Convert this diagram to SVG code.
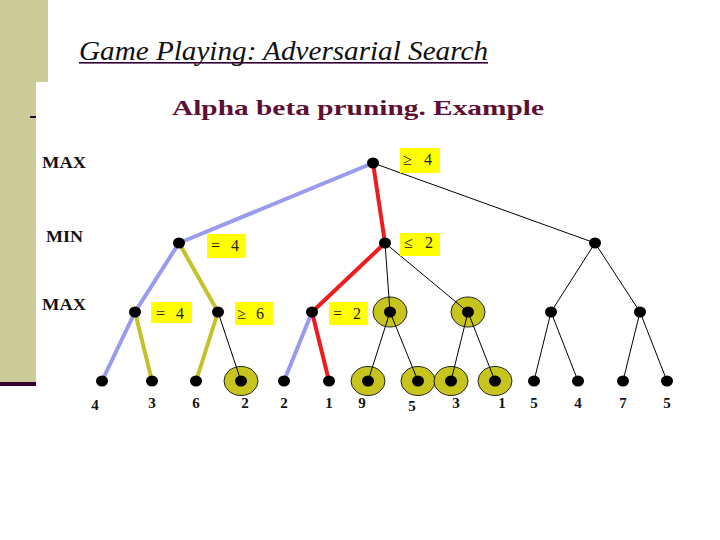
<svg xmlns="http://www.w3.org/2000/svg" width="720" height="540" viewBox="0 0 720 540">
<style>
.title{font-family:"Liberation Serif","Times New Roman",serif;font-style:italic;font-size:27px;fill:#111}
.sub{font-family:"Liberation Serif","Times New Roman",serif;font-weight:bold;font-size:22px;fill:#5e1034}
.lvl{font-family:"Liberation Serif",serif;font-weight:bold;font-size:16px;fill:#111}
.leaf{font-family:"Liberation Serif",serif;font-weight:bold;font-size:15px;fill:#111;text-anchor:middle}
.box{fill:#ffff00}
.bt{font-family:"Liberation Serif","DejaVu Serif",serif;font-size:16px;fill:#222}
.n{fill:#000}
.ring{fill:#c8c41e;stroke:#222;stroke-width:1}
.thin{stroke:#000;stroke-width:1;fill:none}
.blue{stroke:#9a9aee;stroke-width:4;fill:none;stroke-linecap:round}
.red{stroke:#ee1c1c;stroke-width:4;fill:none;stroke-linecap:round}
.olive{stroke:#c4c22a;stroke-width:4;fill:none;stroke-linecap:round}
</style>
<rect width="720" height="540" fill="#fff"/>
<g id="sidebar">
<rect x="0" y="0" width="48" height="82" fill="#cccc99"/>
<rect x="0" y="82" width="36" height="300" fill="#cccc99"/>
<rect x="0" y="382" width="36" height="4" fill="#330033"/>
<rect x="30" y="116" width="6" height="2" fill="#330033"/>
</g>
<g id="title">
<text class="title" x="79" y="60" textLength="409" lengthAdjust="spacingAndGlyphs">Game Playing: Adversarial Search</text>
<rect x="79" y="62" width="409" height="1.6" fill="#330033"/>
</g>
<g id="subtitle">
<text class="sub" x="172" y="115" textLength="372" lengthAdjust="spacingAndGlyphs">Alpha beta pruning. Example</text>
</g>
<g id="levels">
<text class="lvl" x="42" y="168" textLength="44" lengthAdjust="spacingAndGlyphs">MAX</text>
<text class="lvl" x="46" y="242" textLength="37" lengthAdjust="spacingAndGlyphs">MIN</text>
<text class="lvl" x="42" y="310" textLength="44" lengthAdjust="spacingAndGlyphs">MAX</text>
</g>
<g id="connectors">
<line class="blue" x1="373" y1="163" x2="179" y2="243"/>
<line class="red" x1="373" y1="163" x2="385" y2="243"/>
<line class="thin" x1="373" y1="163" x2="595" y2="243"/>
<line class="blue" x1="179" y1="243" x2="135" y2="312"/>
<line class="olive" x1="179" y1="243" x2="218" y2="312"/>
<line class="blue" x1="135" y1="312" x2="102" y2="381"/>
<line class="olive" x1="135" y1="312" x2="152" y2="381"/>
<line class="olive" x1="218" y1="312" x2="196" y2="381"/>
<line class="red" x1="385" y1="243" x2="312" y2="312"/>
<line class="blue" x1="312" y1="312" x2="284" y2="381"/>
<line class="red" x1="312" y1="312" x2="329" y2="381"/>
<line class="thin" x1="595" y1="243" x2="551" y2="312"/>
<line class="thin" x1="595" y1="243" x2="640" y2="312"/>
<line class="thin" x1="551" y1="312" x2="534" y2="381"/>
<line class="thin" x1="551" y1="312" x2="578" y2="381"/>
<line class="thin" x1="640" y1="312" x2="623" y2="381"/>
<line class="thin" x1="640" y1="312" x2="667" y2="381"/>
</g>
<g id="rings">
<ellipse class="ring" cx="241" cy="381" rx="17" ry="14.5"/>
<ellipse class="ring" cx="390" cy="312" rx="17" ry="15"/>
<ellipse class="ring" cx="468" cy="312" rx="17" ry="15"/>
<ellipse class="ring" cx="368" cy="381" rx="17" ry="14.5"/>
<ellipse class="ring" cx="418" cy="381" rx="17" ry="14.5"/>
<ellipse class="ring" cx="451" cy="381" rx="17" ry="14.5"/>
<ellipse class="ring" cx="495" cy="381" rx="17" ry="14.5"/>
</g>
<g id="connectors-pruned">
<line class="thin" x1="218" y1="312" x2="241" y2="381"/>
<line class="thin" x1="385" y1="243" x2="390" y2="312"/>
<line class="thin" x1="385" y1="243" x2="468" y2="312"/>
<line class="thin" x1="390" y1="312" x2="368" y2="381"/>
<line class="thin" x1="390" y1="312" x2="418" y2="381"/>
<line class="thin" x1="468" y1="312" x2="451" y2="381"/>
<line class="thin" x1="468" y1="312" x2="495" y2="381"/>
</g>
<g id="root"><ellipse class="n" cx="373" cy="163" rx="6" ry="5.5"/>
<rect class="box" x="400" y="148" width="40" height="25"/><text class="bt" y="165"><tspan x="403">≥</tspan><tspan x="424">4</tspan></text></g>
<g id="min-left"><ellipse class="n" cx="179" cy="243" rx="6" ry="5.5"/>
<rect class="box" x="207" y="234" width="39" height="24"/><text class="bt" y="251"><tspan x="211">=</tspan><tspan x="231">4</tspan></text></g>
<g id="min-mid"><ellipse class="n" cx="385" cy="243" rx="6" ry="5.5"/>
<rect class="box" x="400" y="233" width="40" height="23"/><text class="bt" y="248"><tspan x="404">≤</tspan><tspan x="425">2</tspan></text></g>
<g id="min-right"><ellipse class="n" cx="595" cy="243" rx="6" ry="5.5"/></g>
<g id="max1"><ellipse class="n" cx="135" cy="312" rx="6" ry="5.5"/>
<rect class="box" x="151" y="302" width="41" height="21"/><text class="bt" y="319"><tspan x="156">=</tspan><tspan x="176">4</tspan></text></g>
<g id="max2"><ellipse class="n" cx="218" cy="312" rx="6" ry="5.5"/>
<rect class="box" x="235" y="302" width="38" height="23"/><text class="bt" y="319"><tspan x="237">≥</tspan><tspan x="256">6</tspan></text></g>
<g id="max3"><ellipse class="n" cx="312" cy="312" rx="6" ry="5.5"/>
<rect class="box" x="329" y="302" width="39" height="23"/><text class="bt" y="319"><tspan x="333">=</tspan><tspan x="353">2</tspan></text></g>
<g id="max4"><ellipse class="n" cx="390" cy="312" rx="6" ry="5.5"/></g>
<g id="max5"><ellipse class="n" cx="468" cy="312" rx="6" ry="5.5"/></g>
<g id="max6"><ellipse class="n" cx="551" cy="312" rx="6" ry="5.5"/></g>
<g id="max7"><ellipse class="n" cx="640" cy="312" rx="6" ry="5.5"/></g>
<g id="leaves">
<g id="leaf1"><ellipse class="n" cx="102" cy="381" rx="6" ry="5.5"/><text class="leaf" x="95" y="410">4</text></g>
<g id="leaf2"><ellipse class="n" cx="152" cy="381" rx="6" ry="5.5"/><text class="leaf" x="152" y="408">3</text></g>
<g id="leaf3"><ellipse class="n" cx="196" cy="381" rx="6" ry="5.5"/><text class="leaf" x="196" y="408">6</text></g>
<g id="leaf4"><ellipse class="n" cx="241" cy="381" rx="6" ry="5.5"/><text class="leaf" x="245" y="408">2</text></g>
<g id="leaf5"><ellipse class="n" cx="284" cy="381" rx="6" ry="5.5"/><text class="leaf" x="284" y="408">2</text></g>
<g id="leaf6"><ellipse class="n" cx="329" cy="381" rx="6" ry="5.5"/><text class="leaf" x="329" y="408">1</text></g>
<g id="leaf7"><ellipse class="n" cx="368" cy="381" rx="6" ry="5.5"/><text class="leaf" x="362" y="408">9</text></g>
<g id="leaf8"><ellipse class="n" cx="418" cy="381" rx="6" ry="5.5"/><text class="leaf" x="412" y="411">5</text></g>
<g id="leaf9"><ellipse class="n" cx="451" cy="381" rx="6" ry="5.5"/><text class="leaf" x="456" y="408">3</text></g>
<g id="leaf10"><ellipse class="n" cx="495" cy="381" rx="6" ry="5.5"/><text class="leaf" x="502" y="408">1</text></g>
<g id="leaf11"><ellipse class="n" cx="534" cy="381" rx="6" ry="5.5"/><text class="leaf" x="534" y="408">5</text></g>
<g id="leaf12"><ellipse class="n" cx="578" cy="381" rx="6" ry="5.5"/><text class="leaf" x="578" y="408">4</text></g>
<g id="leaf13"><ellipse class="n" cx="623" cy="381" rx="6" ry="5.5"/><text class="leaf" x="623" y="408">7</text></g>
<g id="leaf14"><ellipse class="n" cx="667" cy="381" rx="6" ry="5.5"/><text class="leaf" x="667" y="408">5</text></g>
</g>
</svg>
